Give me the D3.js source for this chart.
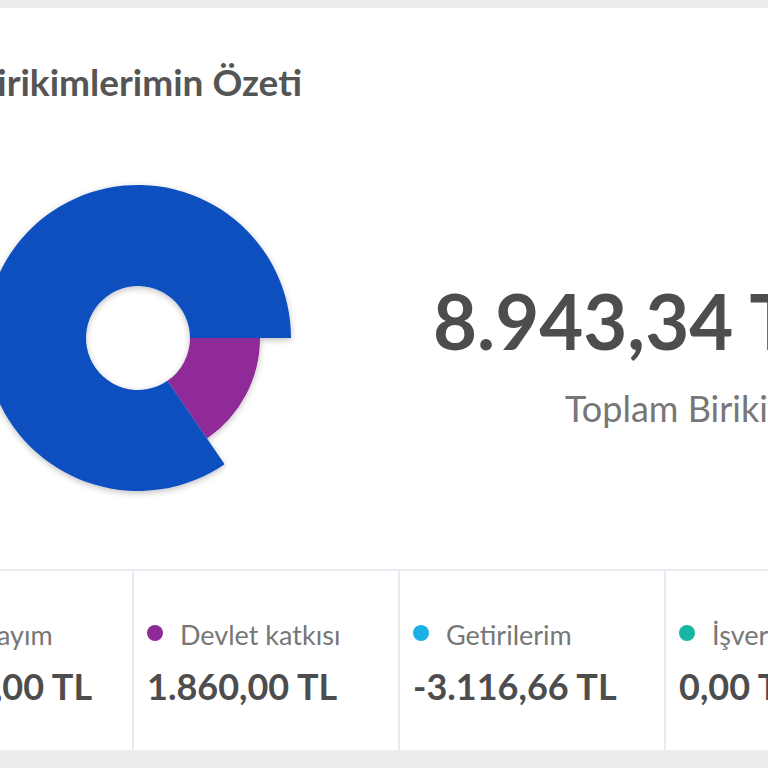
<!DOCTYPE html>
<html><head><meta charset="utf-8">
<script src="https://cdn.jsdelivr.net/npm/d3@7"></script>
<style>body{margin:0;background:#ececec;font-family:Lato,"Open Sans",sans-serif}</style>
</head><body><div id="chart"></div>
<script>
var labels = ["Katkı payım","Devlet katkısı","Getirilerim","İşveren katkısı"];
var amounts = [10200, 1860, -3116.66, 0];
var amountText = ["10.200,00 TL","1.860,00 TL","-3.116,66 TL","0,00 TL"];
var colors = ["#0b4fbf","#8f2b98","#1bb1e8","#17b5a3"];
var radii = [153, 122, 122, 122];
var total = "8.943,34";

var svg = d3.select("#chart").append("svg").attr("width",768).attr("height",768);
var defs = svg.append("defs");
var f = defs.append("filter").attr("id","sh").attr("x","-20%").attr("y","-20%").attr("width","140%").attr("height","140%");
f.append("feDropShadow").attr("dx",0).attr("dy",2).attr("stdDeviation",3).attr("flood-color","#000").attr("flood-opacity",0.25);

// card
svg.append("rect").attr("x",-10).attr("y",8).attr("width",790).attr("height",742).attr("fill","#fff");

svg.append("text").attr("x",302).attr("y",96).attr("text-anchor","end")
  .attr("font-size",37).attr("font-weight",700).attr("fill","#555").text("Birikimlerimin Özeti");

// pie: only positive slices, starting at 3 o'clock going clockwise
var pos = amounts.map(function(v,i){return {v:Math.max(v,0),i:i};}).filter(function(d){return d.v>0;});
pos.reverse();
var pie = d3.pie().value(function(d){return d.v;}).sort(null)
  .startAngle(Math.PI/2 - 2*Math.PI).endAngle(Math.PI/2);
var g = svg.append("g").attr("transform","translate(138,338)").attr("filter","url(#sh)");
g.selectAll("path").data(pie(pos)).enter().append("path")
  .attr("d",function(d){return d3.arc().innerRadius(52).outerRadius(radii[d.data.i])(d);})
  .attr("fill",function(d){return colors[d.data.i];});

svg.append("text").attr("x",433).attr("y",350).attr("font-size",76).attr("font-weight",700)
  .attr("fill","#4d4d4d").text(total + " TL");
svg.append("text").attr("x",565).attr("y",422).attr("font-size",36).attr("fill","#777").text("Toplam Birikim");

// bottom cells
svg.append("line").attr("x1",-10).attr("x2",780).attr("y1",570).attr("y2",570).attr("stroke","#e6ecf2").attr("stroke-width",2);
var x = d3.scaleLinear().domain([0,1]).range([-133,133]);
var cell = svg.selectAll(".cell").data(labels).enter().append("g")
  .attr("transform",function(d,i){return "translate("+x(i)+",0)";});
cell.append("line").attr("x1",0).attr("x2",0).attr("y1",570).attr("y2",750)
  .attr("stroke","#e6ecf2").attr("stroke-width",2);
cell.append("circle").attr("cx",22).attr("cy",633).attr("r",8).attr("fill",function(d,i){return colors[i];});
cell.append("text").attr("x",47).attr("y",645).attr("font-size",27).attr("fill","#777").text(function(d){return d;});
cell.append("text").attr("x",14).attr("y",700).attr("font-size",36).attr("font-weight",700).attr("fill","#4d4d4d")
  .text(function(d,i){return amountText[i];});
</script></body></html>
